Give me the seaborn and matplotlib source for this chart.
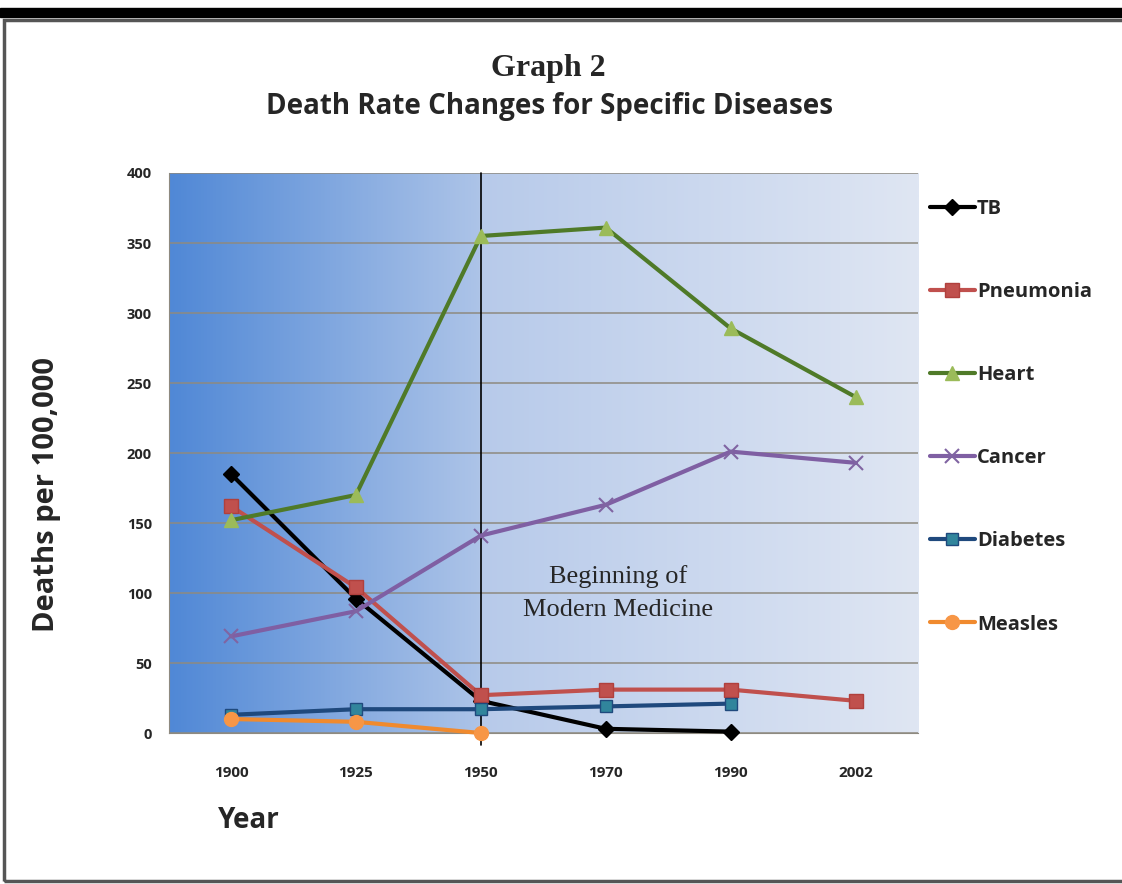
import numpy as np
import pandas as pd
import matplotlib
matplotlib.use("Agg")
import matplotlib.pyplot as plt
import seaborn as sns
from matplotlib.colors import LinearSegmentedColormap
from matplotlib.patches import Rectangle

years = ["1900", "1925", "1950", "1970", "1990", "2002"]

tb = [185, 96, 23, 3, 1, np.nan]
pneumonia = [162, 104, 27, 31, 31, 23]
heart = [152, 170, 355, 361, 289, 240]
cancer = [69, 87, 141, 163, 201, 193]
diabetes = [13, 17, 17, 19, 21, np.nan]
measles = [10, 8, 0, np.nan, np.nan, np.nan]

series = ["TB", "Pneumonia", "Heart", "Cancer", "Diabetes", "Measles"]
values = [tb, pneumonia, heart, cancer, diabetes, measles]

# line colour, marker, marker face, marker edge, marker size
styles = {
    "TB": ("#000000", "D", "#000000", "#000000", 8),
    "Pneumonia": ("#C0504D", "s", "#C0504D", "#B0403D", 10),
    "Heart": ("#4F7A28", "^", "#9BBB59", "#9BBB59", 10),
    "Cancer": ("#7F5FA3", "x", "#8064A2", "#8064A2", 10),
    "Diabetes": ("#1F497D", "s", "#31859C", "#1F497D", 9),
    "Measles": ("#F08A2E", "o", "#F79646", "#F79646", 10),
}

df = pd.DataFrame({"pos": np.arange(len(years))})
for name, vals in zip(series, values):
    df[name] = vals

sns.set_style("white")
plt.rcParams["font.family"] = ["Open Sans", "DejaVu Sans"]

fig = plt.figure(figsize=(11.22, 8.84), dpi=100)
ax = fig.add_axes([0.1502, 0.1708, 0.668, 0.6335])

# gradient background of the plot area
cmap = LinearSegmentedColormap.from_list(
    "bg", [(0.0, "#5088D6"), (0.415, "#ADC4E8"), (0.416, "#B7CAEA"), (1.0, "#DFE6F3")])
grad = np.linspace(0, 1, 512).reshape(1, -1)
ax.imshow(grad, cmap=cmap, aspect="auto", extent=[-0.5, 5.5, 0, 400], zorder=0)

for y in range(0, 401, 50):
    ax.axhline(y, color="#8E8A80", lw=1.1, zorder=1)
ax.axvline(2, ymin=-0.022, ymax=1, color="black", lw=1.2, zorder=2, clip_on=False)

handles = []
for name in series:
    lc, mk, mf, me, ms = styles[name]
    sns.lineplot(data=df, x="pos", y=name, ax=ax, color=lc, lw=3, marker=mk,
                 markersize=ms, markerfacecolor=mf, markeredgecolor=me,
                 markeredgewidth=1.5 if mk == "x" else 1, zorder=3, clip_on=False)
    handles.append(ax.lines[-1])

ax.set_xlim(-0.5, 5.5)
ax.set_ylim(0, 400)
ax.set_yticks(range(0, 401, 50))
ax.set_xticks(np.arange(len(years)))
ax.set_xticklabels(years)
ax.set_xticks(np.arange(-0.5, 6, 1), minor=True)
ax.tick_params(axis="x", which="major", length=0, pad=24, labelsize=11)
ax.tick_params(axis="x", which="minor", length=6, color="#8E8A80", width=1)
ax.tick_params(axis="y", length=6, color="#8E8A80", width=1, pad=6, labelsize=10.5)
for lbl in ax.get_xticklabels() + ax.get_yticklabels():
    lbl.set_fontweight("bold")
for s in ["top", "right"]:
    ax.spines[s].set_visible(False)
ax.spines["left"].set_color("#8E8A80")
ax.spines["bottom"].set_color("#8E8A80")
ax.set_xlabel("")
ax.set_ylabel("")

fig.text(0.0410, 0.441, "Deaths per 100,000", rotation=90, ha="center", va="center",
         fontsize=21, fontweight="bold")
fig.text(0.194, 0.072, "Year", ha="left", va="center", fontsize=20, fontweight="bold")

fig.text(0.489, 0.923, "Graph 2", ha="center", va="center", fontsize=23,
         fontweight="bold", family="Liberation Serif")
fig.text(0.49, 0.879, "Death Rate Changes for Specific Diseases", ha="center",
         va="center", fontsize=20, fontweight="bold")

ax.text(3.1, 100, "Beginning of\nModern Medicine", ha="center", va="center",
        fontsize=19, family="Liberation Serif", linespacing=1.62, zorder=4)

leg = fig.legend(handles, series, loc="upper left", bbox_to_anchor=(0.813, 0.795),
                 frameon=False, handlelength=2.2, handletextpad=0.12,
                 labelspacing=3.13, prop={"weight": "bold", "size": 14.5})

# page frame
fig.patches.append(Rectangle((0, 1 - 17 / 884), 1, 9 / 884, transform=fig.transFigure,
                             color="black", zorder=0))
fig.patches.append(Rectangle((4 / 1122, 3 / 884), 1.1, 1 - 23 / 884,
                             transform=fig.transFigure, fill=False,
                             edgecolor="#555555", lw=2.5, zorder=0))

fig.savefig("out.png", dpi=100)
